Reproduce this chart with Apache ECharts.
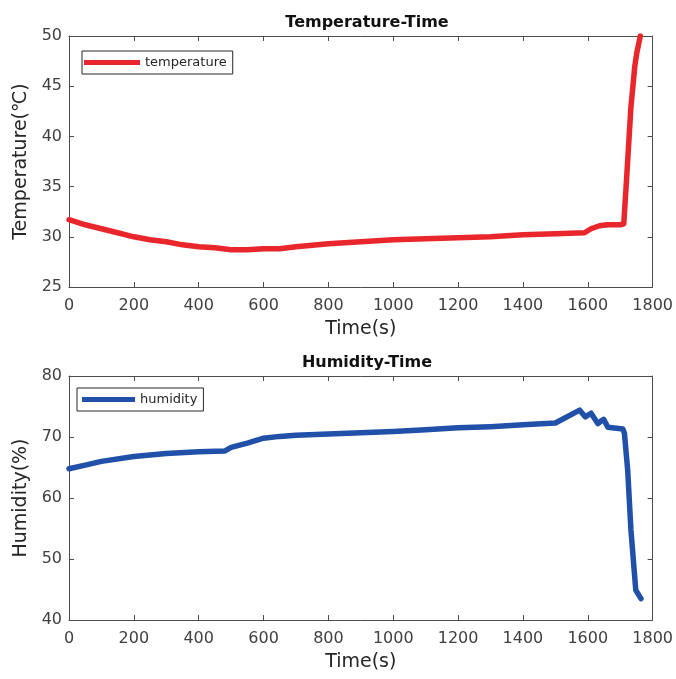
<!DOCTYPE html>
<html>
<head>
<meta charset="utf-8">
<script src="https://cdn.jsdelivr.net/npm/echarts@6/dist/echarts.min.js"></script>
<style>html,body{margin:0;padding:0;background:#fff;}#c{width:676px;height:679px;}</style>
</head>
<body>
<div id="c"></div>
<script>
const tempTime = [0,50,100,150,200,250,300,350,400,450,500,550,600,650,700,800,900,1000,1100,1200,1300,1400,1500,1590,1610,1636,1660,1700,1711,1718,1733,1745,1751,1762];
const tempValues = [31.7,31.2,30.8,30.4,30.0,29.7,29.5,29.2,29.0,28.9,28.7,28.7,28.8,28.8,29.0,29.3,29.5,29.7,29.8,29.9,30.0,30.2,30.3,30.4,30.8,31.1,31.2,31.2,31.3,34.9,42.9,47.0,48.3,50.0];
const humTime = [0,50,100,200,300,400,480,500,550,600,650,700,800,900,1000,1100,1200,1300,1400,1500,1575,1592,1610,1631,1649,1662,1708,1713,1723,1733,1748,1764];
const humValues = [64.8,65.4,66.0,66.8,67.3,67.6,67.7,68.3,69.0,69.8,70.1,70.3,70.5,70.7,70.9,71.2,71.5,71.7,72.0,72.3,74.4,73.3,73.9,72.2,72.9,71.6,71.3,70.6,64.6,54.8,44.9,43.5];
const titles = ['Temperature-Time','Humidity-Time'];
const seriesNames = ['temperature','humidity'];

const FONT = 'DejaVu Sans';
const axisCol = '#4d4d4d';
const labelCol = '#404040';

function pairs(xs, ys){ return xs.map((x,i)=>[x, ys[i]]); }

function xAx(gi, pos, showLabel){
  return {type:'value', gridIndex:gi, position:pos, min:0, max:1800, interval:200,
    axisLine:{show:true, onZero:false, lineStyle:{color:axisCol, width:1}},
    axisTick:{show:true, inside:true, length:5, lineStyle:{color:axisCol}},
    axisLabel:{show:showLabel, margin:11, color:labelCol, fontSize:16, fontFamily:FONT, formatter:v=>String(v)},
    splitLine:{show:false},
    name: showLabel ? 'Time(s)' : '', nameLocation:'middle', nameGap:33,
    nameTextStyle:{fontSize:19, color:'#262626', fontFamily:FONT}};
}
function yAx(gi, pos, showLabel, min, max, interval, name){
  return {type:'value', gridIndex:gi, position:pos, min:min, max:max, interval:interval,
    axisLine:{show:true, onZero:false, lineStyle:{color:axisCol, width:1}},
    axisTick:{show:true, inside:true, length:5, lineStyle:{color:axisCol}},
    axisLabel:{show:showLabel, margin:7, color:labelCol, fontSize:16, fontFamily:FONT, formatter:v=>String(v)},
    splitLine:{show:false},
    name: showLabel ? name : '', nameLocation:'middle', nameGap:34, nameRotate:90,
    nameTextStyle:{fontSize:19, color:'#262626', fontFamily:FONT}};
}

const chart = echarts.init(document.getElementById('c'), null, {renderer:'canvas'});
chart.setOption({
  animation:false,
  backgroundColor:'#fff',
  title:[
    {text:titles[0], left:362, top:10, textAlign:'center', textStyle:{fontSize:16, fontWeight:'bold', color:'#111', fontFamily:FONT}},
    {text:titles[1], left:362, top:350, textAlign:'center', textStyle:{fontSize:16, fontWeight:'bold', color:'#111', fontFamily:FONT}}
  ],
  legend:[
    {data:[seriesNames[0]], left:82, top:51, orient:'vertical', icon:'rect', itemWidth:56, itemHeight:5,
      padding:[5,6,5,2], borderColor:'#262626', borderWidth:1, backgroundColor:'#fff',
      textStyle:{fontSize:13, color:'#262626', fontFamily:FONT}},
    {data:[seriesNames[1]], left:77, top:388, orient:'vertical', icon:'rect', itemWidth:53, itemHeight:5,
      padding:[5,6,5,5], borderColor:'#262626', borderWidth:1, backgroundColor:'#fff',
      textStyle:{fontSize:13, color:'#262626', fontFamily:FONT}}
  ],
  grid:[
    {left:69, top:36, width:586, height:251},
    {left:69, top:376, width:586, height:244}
  ],
  xAxis:[xAx(0,'bottom',true), xAx(0,'top',false), xAx(1,'bottom',true), xAx(1,'top',false)],
  yAxis:[yAx(0,'left',true,25,50,5,'Temperature(℃)'), yAx(0,'right',false,25,50,5,''),
         yAx(1,'left',true,40,80,10,'Humidity(%)'), yAx(1,'right',false,40,80,10,'')],
  series:[
    {name:seriesNames[0], type:'line', xAxisIndex:0, yAxisIndex:0, data:pairs(tempTime,tempValues),
      showSymbol:false, symbol:'none', lineStyle:{width:5.5, color:'#e8262b', join:'round', cap:'round'}, itemStyle:{color:'#e8262b'}},
    {name:seriesNames[1], type:'line', xAxisIndex:2, yAxisIndex:2, data:pairs(humTime,humValues),
      showSymbol:false, symbol:'none', lineStyle:{width:5.5, color:'#2050a8', join:'round', cap:'round'}, itemStyle:{color:'#2050a8'}}
  ]
});
</script>
</body>
</html>
